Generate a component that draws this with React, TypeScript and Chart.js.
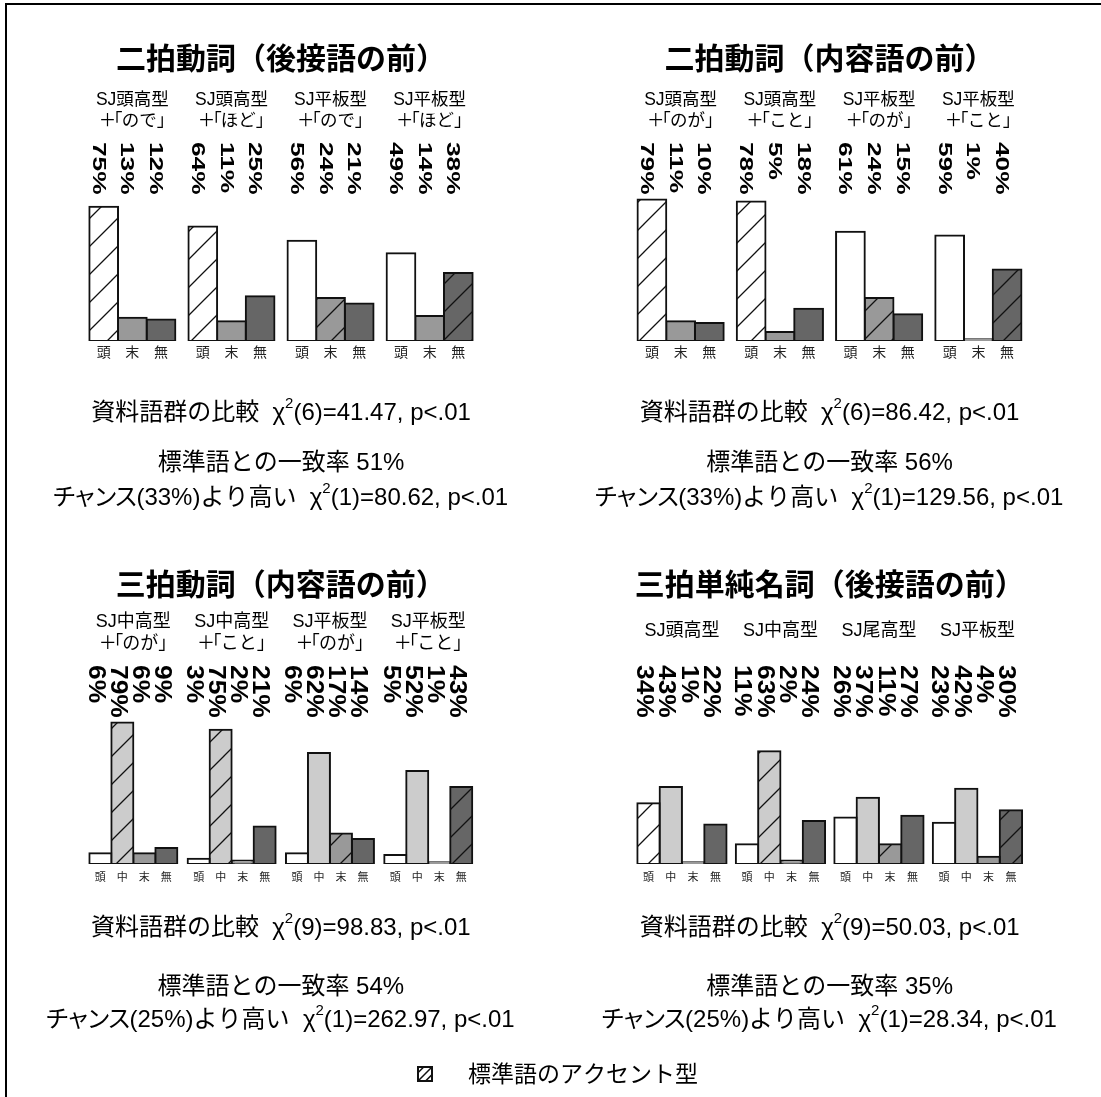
import React, { useEffect, useRef } from "react";
import { Chart, registerables } from "chart.js";

Chart.register(...registerables);

const PAGE_W = 1101;
const PAGE_H = 1097;
const FONT = '"Liberation Sans", "Noto Sans CJK JP", sans-serif';
const CJK = '"Noto Sans CJK JP", "Liberation Sans", sans-serif';

// ---------------- data ----------------
const SERIES_3 = ["頭", "末", "無"];
const SERIES_4 = ["頭", "中", "末", "無"];

// 二拍動詞（後接語の前）
const A_TITLE = "二拍動詞（後接語の前）";
const A_GROUPS = [
  ["SJ頭高型", "＋「ので」"],
  ["SJ頭高型", "＋「ほど」"],
  ["SJ平板型", "＋「ので」"],
  ["SJ平板型", "＋「ほど」"],
];
const A_HEAD = [75, 64, 56, 49];
const A_TAIL = [13, 11, 24, 14];
const A_NONE = [12, 25, 21, 38];
const A_STANDARD = ["頭", "頭", "末", "無"];
const A_COMPARE = ["6", "41.47"];
const A_AGREE = "51%";
const A_CHANCE = ["33%", "80.62"];

// 二拍動詞（内容語の前）
const B_TITLE = "二拍動詞（内容語の前）";
const B_GROUPS = [
  ["SJ頭高型", "＋「のが」"],
  ["SJ頭高型", "＋「こと」"],
  ["SJ平板型", "＋「のが」"],
  ["SJ平板型", "＋「こと」"],
];
const B_HEAD = [79, 78, 61, 59];
const B_TAIL = [11, 5, 24, 1];
const B_NONE = [10, 18, 15, 40];
const B_STANDARD = ["頭", "頭", "末", "無"];
const B_COMPARE = ["6", "86.42"];
const B_AGREE = "56%";
const B_CHANCE = ["33%", "129.56"];

// 三拍動詞（内容語の前）
const C_TITLE = "三拍動詞（内容語の前）";
const C_GROUPS = [
  ["SJ中高型", "＋「のが」"],
  ["SJ中高型", "＋「こと」"],
  ["SJ平板型", "＋「のが」"],
  ["SJ平板型", "＋「こと」"],
];
const C_HEAD = [6, 3, 6, 5];
const C_MID = [79, 75, 62, 52];
const C_TAIL = [6, 2, 17, 1];
const C_NONE = [9, 21, 14, 43];
const C_STANDARD = ["中", "中", "末", "無"];
const C_COMPARE = ["9", "98.83"];
const C_AGREE = "54%";
const C_CHANCE = ["25%", "262.97"];

// 三拍単純名詞（後接語の前）
const D_TITLE = "三拍単純名詞（後接語の前）";
const D_GROUPS = [["SJ頭高型"], ["SJ中高型"], ["SJ尾高型"], ["SJ平板型"]];
const D_HEAD = [34, 11, 26, 23];
const D_MID = [43, 63, 37, 42];
const D_TAIL = [1, 2, 11, 4];
const D_NONE = [22, 24, 27, 30];
const D_STANDARD = ["頭", "中", "末", "無"];
const D_COMPARE = ["9", "50.03"];
const D_AGREE = "35%";
const D_CHANCE = ["25%", "28.34"];

const LEGEND_TEXT = "標準語のアクセント型";

// ---------------- styles ----------------
const SERIES_COLOR: Record<string, string> = {
  頭: "#ffffff",
  中: "#cccccc",
  末: "#999999",
  無: "#666666",
};

const TOP_STYLE = {
  titleY: 58,
  groupFont: 17.5,
  pctTop: 142,
  pctFont: 18,
  pctStretch: 1.46,
  pctDx: -4.5,
  tickFont: 14,
};
const BOTTOM_STYLE = {
  titleY: 584,
  groupFont: 18,
  pctTop: 665,
  pctFont: 24,
  pctStretch: 1.1,
  pctDx: -3,
  tickFont: 11,
};

const PANELS = [
  {
    ...TOP_STYLE,
    title: A_TITLE, groups: A_GROUPS, series: SERIES_3,
    values: [A_HEAD, A_TAIL, A_NONE], standard: A_STANDARD,
    compare: A_COMPARE, agree: A_AGREE, chance: A_CHANCE,
    left: 82.8, right: 479.2, base: 341, catPct: 0.868,
    groupY: [100, 121], tickY: 352, statY: [420, 470, 505], legend: false,
  },
  {
    ...TOP_STYLE,
    title: B_TITLE, groups: B_GROUPS, series: SERIES_3,
    values: [B_HEAD, B_TAIL, B_NONE], standard: B_STANDARD,
    compare: B_COMPARE, agree: B_AGREE, chance: B_CHANCE,
    left: 631, right: 1028, base: 341, catPct: 0.868,
    groupY: [100, 121], tickY: 352, statY: [420, 470, 505], legend: false,
  },
  {
    ...BOTTOM_STYLE,
    title: C_TITLE, groups: C_GROUPS, series: SERIES_4,
    values: [C_HEAD, C_MID, C_TAIL, C_NONE], standard: C_STANDARD,
    compare: C_COMPARE, agree: C_AGREE, chance: C_CHANCE,
    left: 84.2, right: 477.4, base: 864, catPct: 0.895,
    groupY: [622.5, 644.5], tickY: 876.5, statY: [935, 994, 1027], legend: true,
  },
  {
    ...BOTTOM_STYLE,
    title: D_TITLE, groups: D_GROUPS, series: SERIES_4,
    values: [D_HEAD, D_MID, D_TAIL, D_NONE], standard: D_STANDARD,
    compare: D_COMPARE, agree: D_AGREE, chance: D_CHANCE,
    left: 632.7, right: 1026.7, base: 864, catPct: 0.906,
    groupY: [631], tickY: 876.5, statY: [935, 994, 1027], legend: false,
  },
];

const PX_PER_100 = 179;

// ---------------- helpers ----------------
function makeHatch(color: string): CanvasPattern | string {
  const s = 28;
  const c = document.createElement("canvas");
  c.width = s;
  c.height = s;
  const g = c.getContext("2d");
  if (!g) return color;
  g.fillStyle = color;
  g.fillRect(0, 0, s, s);
  g.strokeStyle = "#111";
  g.lineWidth = 1.3;
  g.beginPath();
  for (const k of [0, s, 2 * s]) {
    g.moveTo(-2, k + 2);
    g.lineTo(k + 2, -2);
  }
  g.stroke();
  return g.createPattern(c, "repeat") || color;
}

const NARROW_KANA = "ャュョッァィゥェォンスチ";

function drawProp(ctx: CanvasRenderingContext2D, text: string, cx: number, y: number, size: number) {
  ctx.font = `${size}px ${FONT}`;
  const chars = Array.from(text);
  const adv = chars.map((c) =>
    c === "「" || c === "」" ? 0.45 * size : c === "＋" ? 0.78 * size : ctx.measureText(c).width
  );
  const shift = chars.map((c) => (c === "「" ? -0.5 * size : c === "＋" ? -0.08 * size : 0));
  const total = adv.reduce((a, b) => a + b, 0);
  let x = cx - total / 2;
  ctx.textAlign = "left";
  ctx.textBaseline = "middle";
  chars.forEach((c, i) => {
    ctx.fillText(c, x + shift[i], y);
    x += adv[i];
  });
}

// width-aware run: katakana drawn a little tighter, like a proportional Japanese font
function runWidth(ctx: CanvasRenderingContext2D, text: string, size: number) {
  let w = 0;
  for (const c of Array.from(text)) {
    const m = ctx.measureText(c).width;
    w += NARROW_KANA.includes(c) ? m * 0.86 : m;
  }
  return w;
}
function drawRun(ctx: CanvasRenderingContext2D, text: string, x: number, y: number, size: number) {
  for (const c of Array.from(text)) {
    const m = ctx.measureText(c).width;
    const a = NARROW_KANA.includes(c) ? m * 0.86 : m;
    ctx.fillText(c, x - (m - a) / 2, y);
    x += a;
  }
}

function drawChi(ctx: CanvasRenderingContext2D, pre: string, post: string, cx: number, y: number, size: number) {
  const main = `${size}px ${FONT}`;
  const sup = `${Math.round(size * 0.64)}px ${FONT}`;
  ctx.font = main;
  const w1 = runWidth(ctx, pre, size);
  const w3 = ctx.measureText(post).width;
  ctx.font = sup;
  const w2 = ctx.measureText("2").width;
  let x = cx - (w1 + w2 + w3) / 2;
  ctx.textAlign = "left";
  ctx.textBaseline = "alphabetic";
  ctx.font = main;
  drawRun(ctx, pre, x, y, size);
  x += w1;
  ctx.font = sup;
  ctx.fillText("2", x, y - size * 0.5);
  x += w2;
  ctx.font = main;
  ctx.fillText(post, x, y);
}

function panelPlugin(p: (typeof PANELS)[number]) {
  return {
    id: "panelText",
    afterDraw(chart: any) {
      const ctx: CanvasRenderingContext2D = chart.ctx;
      const area = chart.chartArea;
      const cx = (area.left + area.right) / 2;
      ctx.save();
      ctx.fillStyle = "#000";

      // title
      ctx.font = `bold 30px ${CJK}`;
      ctx.textAlign = "center";
      ctx.textBaseline = "middle";
      ctx.fillText(p.title, cx, p.titleY);

      // group labels
      const xs = chart.scales.x;
      p.groups.forEach((lines, g) => {
        const gx = xs.getPixelForValue(g);
        lines.forEach((ln, k) => drawProp(ctx, ln, gx, p.groupY[k], p.groupFont));
      });

      // rotated percentages & tick labels
      const cap = 0.716 * p.pctFont;
      chart.data.datasets.forEach((ds: any, s: number) => {
        const meta = chart.getDatasetMeta(s);
        meta.data.forEach((bar: any, g: number) => {
          const label = `${ds.data[g]}%`;
          ctx.save();
          ctx.translate(bar.x + p.pctDx - cap / 2, p.pctTop);
          ctx.rotate(Math.PI / 2);
          ctx.scale(p.pctStretch, 1);
          ctx.font = `bold ${p.pctFont}px ${FONT}`;
          ctx.textAlign = "left";
          ctx.textBaseline = "alphabetic";
          ctx.fillText(label, 0, 0);
          ctx.restore();

          ctx.font = `${p.tickFont}px ${CJK}`;
          ctx.textAlign = "center";
          ctx.textBaseline = "middle";
          ctx.fillStyle = "#222";
          ctx.fillText(p.series[s], bar.x, p.tickY);
          ctx.fillStyle = "#000";
        });
      });

      // statistics
      drawChi(ctx, "資料語群の比較  χ", `(${p.compare[0]})=${p.compare[1]}, p<.01`, cx, p.statY[0], 24);
      ctx.font = `24px ${FONT}`;
      ctx.textAlign = "center";
      ctx.textBaseline = "alphabetic";
      ctx.fillText(`標準語との一致率 ${p.agree}`, cx, p.statY[1]);
      drawChi(ctx, `チャンス(${p.chance[0]})より高い  χ`, `(1)=${p.chance[1]}, p<.01`, cx, p.statY[2], 24);

      // legend (drawn once)
      if (p.legend) {
        const bx = 418, by = 1067, bs = 14;
        ctx.fillStyle = "#fff";
        ctx.fillRect(bx, by, bs, bs);
        ctx.save();
        ctx.beginPath();
        ctx.rect(bx, by, bs, bs);
        ctx.clip();
        ctx.strokeStyle = "#111";
        ctx.lineWidth = 1.5;
        ctx.beginPath();
        ctx.moveTo(bx - 2, by + bs * 0.55);
        ctx.lineTo(bx + bs * 0.55, by - 2);
        ctx.moveTo(bx + bs * 0.4, by + bs + 2);
        ctx.lineTo(bx + bs + 2, by + bs * 0.4);
        ctx.moveTo(bx - 2, by + bs + 2);
        ctx.lineTo(bx + bs + 2, by - 2);
        ctx.stroke();
        ctx.restore();
        ctx.strokeStyle = "#111";
        ctx.lineWidth = 2;
        ctx.strokeRect(bx, by, bs, bs);
        ctx.fillStyle = "#000";
        ctx.font = `23px ${CJK}`;
        ctx.textAlign = "left";
        ctx.textBaseline = "alphabetic";
        ctx.fillText(LEGEND_TEXT, 468, 1082);
      }
      ctx.restore();
    },
  };
}

export default function App() {
  const refs = [useRef<HTMLCanvasElement>(null), useRef<HTMLCanvasElement>(null), useRef<HTMLCanvasElement>(null), useRef<HTMLCanvasElement>(null)];

  useEffect(() => {
    const charts: Chart[] = [];
    PANELS.forEach((p, i) => {
      const canvas = refs[i].current;
      if (!canvas) return;
      const datasets = p.series.map((name, s) => ({
        label: name,
        data: p.values[s],
        backgroundColor: p.values[s].map((_, g) =>
          p.standard[g] === name ? makeHatch(SERIES_COLOR[name]) : SERIES_COLOR[name]
        ),
        borderColor: "#111",
        borderWidth: 2,
        borderSkipped: false,
        inflateAmount: 1,
        categoryPercentage: p.catPct,
        barPercentage: 1,
      }));
      const chart = new Chart(canvas, {
        type: "bar",
        data: { labels: p.groups.map((g) => g.join(" ")), datasets: datasets as any },
        options: {
          responsive: false,
          maintainAspectRatio: false,
          animation: false,
          devicePixelRatio: 1,
          events: [],
          layout: {
            padding: {
              left: p.left,
              right: PAGE_W - p.right,
              top: p.base - PX_PER_100,
              bottom: PAGE_H - p.base,
            },
          },
          scales: {
            x: { display: false },
            y: { display: false, min: 0, max: 100 },
          },
          plugins: { legend: { display: false }, tooltip: { enabled: false } },
        },
        plugins: [panelPlugin(p)],
      });
      charts.push(chart);
    });
    return () => charts.forEach((c) => c.destroy());
  }, []);

  return (
    <div style={{ position: "absolute", left: 0, top: 0, width: PAGE_W, height: PAGE_H, background: "#fff", overflow: "hidden" }}>
      <div style={{ position: "absolute", left: 5, top: 3, right: 0, bottom: 0, borderLeft: "2px solid #000", borderTop: "2px solid #000" }} />
      {refs.map((r, i) => (
        <canvas key={i} ref={r} width={PAGE_W} height={PAGE_H} style={{ position: "absolute", left: 0, top: 0 }} />
      ))}
    </div>
  );
}
